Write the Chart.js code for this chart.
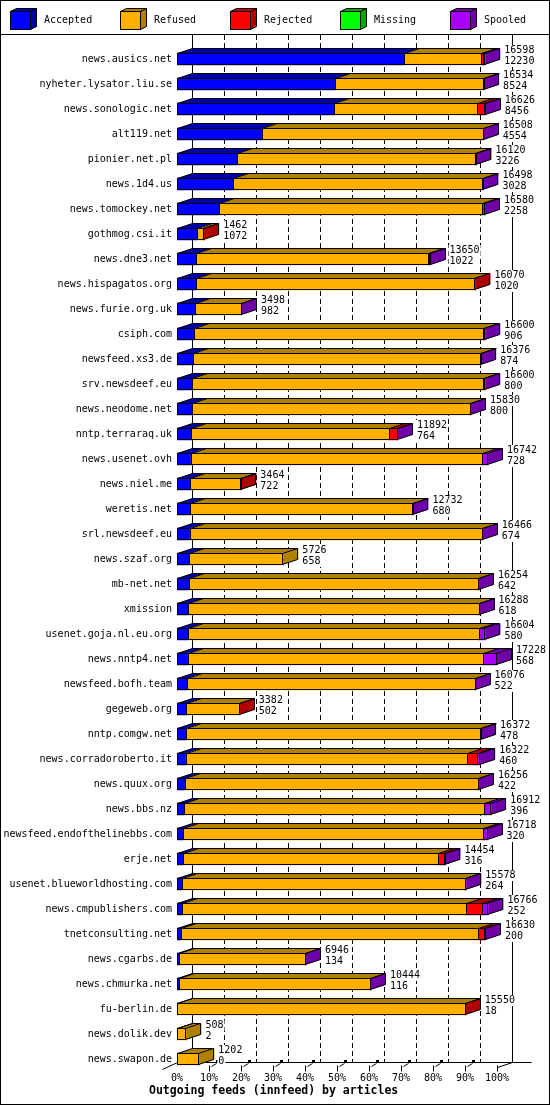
<!DOCTYPE html>
<html><head><meta charset="utf-8">
<script src="https://cdn.jsdelivr.net/npm/chart.js@4/dist/chart.umd.min.js"></script>
<style>html,body{margin:0;padding:0;background:#fff}canvas{display:block}</style>
</head><body>
<canvas id="c" width="550" height="1105"></canvas>
<script>
const hosts = ['news.ausics.net','nyheter.lysator.liu.se','news.sonologic.net','alt119.net','pionier.net.pl','news.1d4.us','news.tomockey.net','gothmog.csi.it','news.dne3.net','news.hispagatos.org','news.furie.org.uk','csiph.com','newsfeed.xs3.de','srv.newsdeef.eu','news.neodome.net','nntp.terraraq.uk','news.usenet.ovh','news.niel.me','weretis.net','srl.newsdeef.eu','news.szaf.org','mb-net.net','xmission','usenet.goja.nl.eu.org','news.nntp4.net','newsfeed.bofh.team','gegeweb.org','nntp.comgw.net','news.corradoroberto.it','news.quux.org','news.bbs.nz','newsfeed.endofthelinebbs.com','erje.net','usenet.blueworldhosting.com','news.cmpublishers.com','tnetconsulting.net','news.cgarbs.de','news.chmurka.net','fu-berlin.de','news.dolik.dev','news.swapon.de'];
const offered  = [16598,16534,16626,16508,16120,16498,16580,1462,13650,16070,3498,16600,16376,16600,15830,11892,16742,3464,12732,16466,5726,16254,16288,16604,17228,16076,3382,16372,16322,16256,16912,16718,14454,15578,16766,16630,6946,10444,15550,508,1202];
const accepted = [12230,8524,8456,4554,3226,3028,2258,1072,1022,1020,982,906,874,800,800,764,728,722,680,674,658,642,618,580,568,522,502,478,460,422,396,320,316,264,252,200,134,116,18,2,0];
const refused  = [4162,7980,7699,11924,12793,13440,14180,340,12475,14990,2490,15587,15472,15689,15000,10640,15678,2722,12022,15762,5068,15582,15620,15678,15921,15524,2860,15864,15172,15804,16147,16141,13720,15242,15291,16023,6782,10298,15482,506,1202];
const rejected = [108,0,360,0,80,0,0,50,80,60,0,0,0,0,0,460,0,20,0,0,0,0,0,0,0,0,20,0,538,0,0,0,390,0,894,307,0,0,50,0,0];
const missing  = [0,0,0,0,0,0,0,0,0,0,0,0,0,0,0,0,0,0,0,0,0,0,0,0,0,0,0,0,0,0,0,0,0,0,0,0,0,0,0,0,0];
const spooled  = [98,30,111,30,21,30,142,0,73,0,26,107,30,111,30,28,336,0,30,30,0,30,50,346,739,30,0,30,152,30,369,257,28,72,329,100,30,30,0,0,0];
const seriesNames = ['Accepted','Refused','Rejected','Missing','Spooled'];
const frontColors = ['#0000ff','#ffb000','#ff0000','#00ff00','#a800ff'];
const darkColors  = ['#0000a8','#b08000','#b00000','#00a800','#7000a8'];
const xTickPercents = [0,10,20,30,40,50,60,70,80,90,100];
const axisTitle = 'Outgoing feeds (innfeed) by articles';
const MAXV = Math.max(...offered);

const DX = 15, DY = 5, BAR_H = 12;
const MONO = '"DejaVu Sans Mono", "Liberation Mono", monospace';
const seriesValues = [accepted, refused, rejected, missing, spooled];

function line(ctx, x1, y1, x2, y2){ ctx.beginPath(); ctx.moveTo(x1,y1); ctx.lineTo(x2,y2); ctx.stroke(); }

const plugin3d = {
  id: 'innreport3d',
  beforeDraw(chart){
    const ctx = chart.ctx;
    ctx.save(); ctx.fillStyle = '#fff'; ctx.fillRect(0,0,chart.width,chart.height); ctx.restore();
  },
  beforeDatasetsDraw(chart){
    const ctx = chart.ctx, xs = chart.scales.x, area = chart.chartArea;
    const topY = 35, floorY = Math.round(area.bottom - 10) + 0.5;
    ctx.save();
    ctx.strokeStyle = '#000'; ctx.lineWidth = 1;
    xTickPercents.forEach(p => {
      const x = Math.round(xs.getPixelForValue(MAXV*p/100) + DX) + 0.5;
      if (p === 0 || p === 100) ctx.setLineDash([]); else ctx.setLineDash([5,3]);
      line(ctx, x, topY, x, floorY);
    });
    ctx.setLineDash([]);
    const x0 = Math.round(xs.getPixelForValue(0)) + 0.5;
    const x100 = Math.round(xs.getPixelForValue(MAXV)) + 0.5;
    line(ctx, x0, floorY, x100 + DX + 19, floorY);
    line(ctx, x0 - DX, floorY + DY + 2, x0, floorY);
    line(ctx, x100, floorY + DY, x100 + DX, floorY);
    xTickPercents.forEach(p => {
      if (p === 0) return;
      const x = Math.round(xs.getPixelForValue(MAXV*p/100)) + 0.5;
      line(ctx, x, floorY + 3, x, floorY + 9);
      if (p < 100) {
        line(ctx, x + 2, floorY + 4, x + 7, floorY + 1);
        ctx.fillStyle = '#000';
        ctx.fillRect(x + 6.5, floorY - 2.5, 3, 3);
      }
    });
    ctx.restore();
  },
  afterDatasetsDraw(chart){
    const ctx = chart.ctx, xs = chart.scales.x;
    const metas = chart.data.datasets.map((d,k) => chart.getDatasetMeta(k));
    ctx.save();
    ctx.lineWidth = 1; ctx.strokeStyle = '#000';
    hosts.forEach((h,i) => {
      const cy = metas[0].data[i].y;
      const t = Math.round(cy - BAR_H/2), b = t + BAR_H;
      const segs = [];
      metas.forEach((m,k) => {
        const v = chart.data.datasets[k].data[i];
        if (v > 0) { const e = m.data[i]; segs.push({l: Math.min(e.base, e.x), r: Math.max(e.base, e.x), k}); }
      });
      if (segs.length) {
        const L = segs[0].l, R = segs[segs.length-1].r, last = segs[segs.length-1];
        const ty = t + 0.5, by = b - 0.5;
        segs.forEach(s => {
          ctx.beginPath();
          ctx.moveTo(s.l, ty); ctx.lineTo(s.r, ty); ctx.lineTo(s.r + DX, ty - DY); ctx.lineTo(s.l + DX, ty - DY); ctx.closePath();
          ctx.fillStyle = darkColors[s.k]; ctx.fill();
        });
        ctx.beginPath();
        ctx.moveTo(R, ty); ctx.lineTo(R + DX, ty - DY); ctx.lineTo(R + DX, by - DY); ctx.lineTo(R, by); ctx.closePath();
        ctx.fillStyle = darkColors[last.k]; ctx.fill();
        // outlines
        const Lx = Math.round(L) + 0.5, Rx = Math.round(R) - 0.5;
        ctx.strokeRect(Lx, ty, Rx - Lx, BAR_H - 1);
        segs.forEach((s, j) => {
          if (j === segs.length - 1) return;
          const x = Math.round(s.r) + 0.5;
          line(ctx, x, ty, x, by);
          line(ctx, x, ty, x + DX, ty - DY);
        });
        line(ctx, Lx, ty, Lx + DX, ty - DY);
        line(ctx, Lx + DX, ty - DY, Rx + DX, ty - DY);
        line(ctx, Rx, ty, Rx + DX, ty - DY);
        line(ctx, Rx + DX, ty - DY, Rx + DX, by - DY);
        line(ctx, Rx, by, Rx + DX, by - DY);
      }
      // numbers
      const tx = xs.getPixelForValue(offered[i]) + DX + 4;
      ctx.font = '10px ' + MONO;
      ctx.textBaseline = 'middle'; ctx.textAlign = 'left';
      [[String(offered[i]), cy - 9], [String(accepted[i]), cy + 2]].forEach(([s, yy]) => {
        const w = ctx.measureText(s).width;
        ctx.fillStyle = '#fff'; ctx.fillRect(tx - 1, yy - 5, w + 2, 11);
        ctx.fillStyle = '#000'; ctx.fillText(s, tx, yy);
      });
    });
    ctx.restore();
  },
  afterDraw(chart){
    const ctx = chart.ctx;
    ctx.save();
    ctx.strokeStyle = '#000'; ctx.lineWidth = 1;
    ctx.strokeRect(0.5, 0.5, chart.width - 1, chart.height - 1);
    line(ctx, 0, 34.5, chart.width, 34.5);
    // legend
    ctx.font = '10px ' + MONO; ctx.textBaseline = 'middle'; ctx.textAlign = 'left';
    seriesNames.forEach((name, k) => {
      const bx = 10 + 110*k + 0.5, by = 11.5, w = 20, h = 18, dx = 6, dy = 3;
      ctx.fillStyle = frontColors[k]; ctx.fillRect(bx, by, w, h);
      ctx.fillStyle = darkColors[k];
      ctx.beginPath(); ctx.moveTo(bx, by); ctx.lineTo(bx + w, by); ctx.lineTo(bx + w + dx, by - dy); ctx.lineTo(bx + dx, by - dy); ctx.closePath(); ctx.fill(); ctx.stroke();
      ctx.beginPath(); ctx.moveTo(bx + w, by); ctx.lineTo(bx + w + dx, by - dy); ctx.lineTo(bx + w + dx, by + h - dy); ctx.lineTo(bx + w, by + h); ctx.closePath(); ctx.fill(); ctx.stroke();
      ctx.strokeRect(bx, by, w, h);
      ctx.fillStyle = '#000';
      ctx.fillText(name, 10 + 110*k + 34, 20);
    });
    // axis title
    ctx.font = 'bold 11.5px ' + MONO;
    ctx.textAlign = 'left'; ctx.fillStyle = '#000';
    ctx.fillText(axisTitle, 149, 1091);
    ctx.restore();
  }
};

new Chart(document.getElementById('c'), {
  type: 'bar',
  data: {
    labels: hosts,
    datasets: seriesValues.map((vals, k) => ({
      label: seriesNames[k], data: vals, backgroundColor: frontColors[k],
      borderWidth: 0, barThickness: BAR_H
    }))
  },
  options: {
    indexAxis: 'y', responsive: false, animation: false, devicePixelRatio: 1,
    layout: { padding: { top: 46.5, right: 53, left: 0, bottom: 0 } },
    plugins: { legend: { display: false }, tooltip: { enabled: false }, title: { display: false } },
    scales: {
      x: {
        stacked: true, min: 0, max: MAXV, position: 'bottom',
        grid: { display: false, drawTicks: false }, border: { display: false },
        afterBuildTicks: s => { s.ticks = xTickPercents.map(p => ({ value: MAXV*p/100 })); },
        afterFit: s => { s.height = 33.5; },
        ticks: { autoSkip: false, maxRotation: 0, padding: 1, color: '#000',
          font: { family: MONO, size: 10 },
          callback: v => Math.round(v / MAXV * 100) + '%' }
      },
      y: {
        stacked: true, position: 'left',
        grid: { display: false, drawTicks: false }, border: { display: false },
        afterFit: s => { s.width = 177; },
        ticks: { autoSkip: false, padding: 5, color: '#000', font: { family: MONO, size: 10 } }
      }
    }
  },
  plugins: [plugin3d]
});
</script>
</body></html>
